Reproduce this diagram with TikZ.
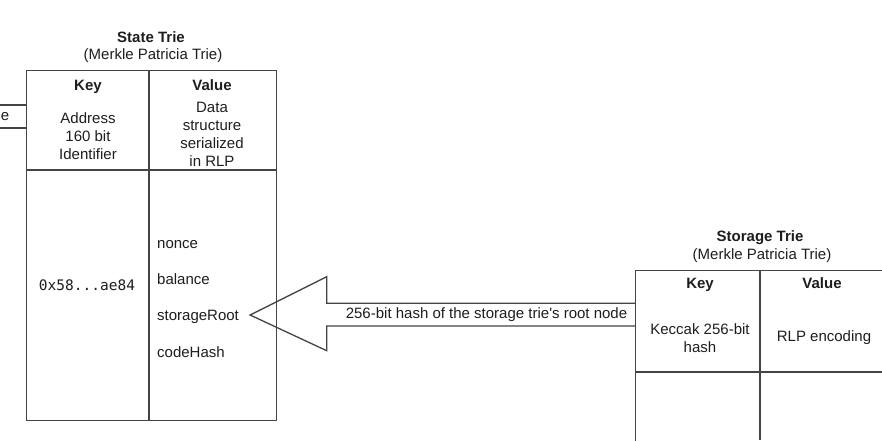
\documentclass[tikz,border=0pt]{standalone}
\usepackage{fontspec}
\setmainfont{Liberation Sans}
\newfontfamily\plainsans{Liberation Sans}
\newfontfamily\codefont{DejaVu Sans Mono}
\definecolor{linegray}{HTML}{444444}
\definecolor{inkgray}{HTML}{1E1E1E}
\begin{document}
\begin{tikzpicture}[x=1pt,y=-1pt,
  frame/.style={draw=linegray, line width=1.3pt},
  cellbox/.style={frame, anchor=north west, inner sep=0pt},
  txt/.style={inner sep=0pt, text=inkgray, align=center,
    font=\fontsize{15}{18}\selectfont},
  hdr/.style={txt, font=\fontsize{15}{18}\selectfont\bfseries},
  colhdr/.style={hdr, anchor=base},
  field/.style={txt, anchor=base west},
  code/.style={inner sep=0pt, text=inkgray, font=\codefont\fontsize{14.5}{16}\selectfont}]
\useasboundingbox (0,0) rectangle (882,440);
\fill[white] (0,0) rectangle (882,440);

% ---- State trie ----
\node[hdr] (stTitle) at (151,37) {State Trie};
\node[txt] (stSub) at (153,56) {(Merkle Patricia Trie)};
\node[cellbox, minimum width=250pt, minimum height=350pt] (state) at (26,70) {};
\coordinate (stColTop) at (149,70);
\coordinate (stColBot) at (149,420);
\coordinate (stRowL) at (26,170);
\coordinate (stRowR) at (276,170);
\draw[frame] (stColTop) -- (stColBot);
\draw[frame] (stRowL) -- (stRowR);
\node[colhdr] (stKey) at (88,90.5) {Key};
\node[colhdr] (stVal) at (212,90.5) {Value};
\node[txt] (stKeyDesc) at (88,136) {Address\\160 bit\\Identifier};
\node[txt] (stValDesc) at (212,134) {Data\\structure\\serialized\\in RLP};
\node[code] (addr) at (87,285) {0x58...ae84};
\node[field] (nonce) at (157,248) {nonce};
\node[field] (balance) at (157,284) {balance};
\node[field] (sroot) at (157,320) {storageRoot};
\node[field] (chash) at (157,357) {codeHash};

% shaft of an incoming arrow entering from the left edge
\coordinate (inTopL) at (0,105);
\coordinate (inBotL) at (0,128);
\coordinate (inTopR) at (26,105);
\coordinate (inBotR) at (26,128);
\draw[frame] (inTopL) -- (inTopR);
\draw[frame] (inBotL) -- (inBotR);
\node[txt, anchor=east] (inTail) at (9.5,117) {e};

% ---- Storage trie ----
\node[hdr] (sgTitle) at (760,238) {Storage Trie};
\node[txt] (sgSub) at (762,256) {(Merkle Patricia Trie)};
\node[cellbox, minimum width=260pt, minimum height=190pt] (storage) at (635,270) {};
\coordinate (sgColTop) at (760,270);
\coordinate (sgColBot) at (760,440);
\coordinate (sgRowL) at (635,372);
\coordinate (sgRowR) at (882,372);
\draw[frame] (sgColTop) -- (sgColBot);
\draw[frame] (sgRowL) -- (sgRowR);
\node[colhdr] (sgKey) at (700,288.5) {Key};
\node[colhdr] (sgVal) at (822,288.5) {Value};
\node[txt] (sgKeyDesc) at (700,338) {Keccak 256-bit\\hash};
\node[txt] (sgValDesc) at (824,338) {RLP encoding};

% ---- Block arrow from the storage trie to storageRoot ----
\coordinate (tip) at ([xshift=11pt,yshift=5pt]sroot.base east);
\coordinate (shaftTR) at (storage.west |- 0,303.3);
\coordinate (shaftBR) at (storage.west |- 0,326);
\draw[frame, line join=miter]
  (shaftTR) -- (326.7,303.3) -- (326.7,276.7) -- (tip)
  -- (326.7,350.7) -- (326.7,326) -- (shaftBR);
\node[txt, font=\plainsans\fontsize{15}{18}\selectfont] (hashLbl) at (486.5,314.5)
  {256-bit hash of the storage trie's root node};
\end{tikzpicture}
\end{document}
